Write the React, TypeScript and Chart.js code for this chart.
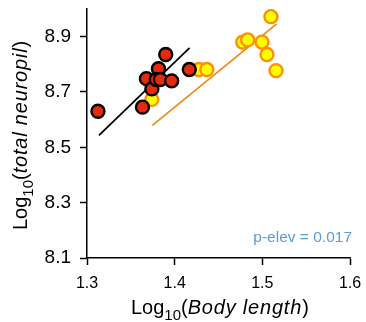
import React, { useEffect, useRef } from "react";
import { Chart, registerables } from "chart.js";

Chart.register(...registerables);

// Data
const redX = [1.3125, 1.3633, 1.3678, 1.374, 1.3815, 1.379, 1.3837, 1.3898, 1.3966, 1.4167];
const redY = [8.63, 8.645, 8.748, 8.711, 8.784, 8.745, 8.745, 8.835, 8.74, 8.781];
const yellowX = [1.3739, 1.4276, 1.4367, 1.5098, 1.4776, 1.4833, 1.4996, 1.5053, 1.5156];
const yellowY = [8.673, 8.781, 8.781, 8.972, 8.88, 8.888, 8.88, 8.835, 8.777];
const blackLineX = [1.3136, 1.417];
const blackLineY = [8.543, 8.859];
const orangeLineX = [1.3746, 1.5163];
const orangeLineY = [8.579, 8.946];
const xTicks = [1.3, 1.4, 1.5, 1.6];
const yTicks = [8.1, 8.3, 8.5, 8.7, 8.9];
const annotation = "p-elev = 0.017";

const FONT = "'Liberation Sans', Arial, sans-serif";

type Part = { text: string; italic?: boolean; sub?: boolean };

function drawParts(ctx: CanvasRenderingContext2D, parts: Part[], x0: number, y0: number, size: number) {
  const fontFor = (p: Part) =>
    `${p.italic ? "italic " : ""}${p.sub ? Math.round(size * 0.75) : size}px ${FONT}`;
  let x = x0;
  ctx.textBaseline = "alphabetic";
  ctx.textAlign = "left";
  ctx.fillStyle = "#000";
  parts.forEach((p) => {
    ctx.font = fontFor(p);
    (ctx as any).letterSpacing = p.italic ? "0.8px" : "0px";
    ctx.fillText(p.text, x, y0 + (p.sub ? size * 0.3 : 0));
    x += ctx.measureText(p.text).width;
  });
  (ctx as any).letterSpacing = "0px";
}

const titlePlugin = {
  id: "titles",
  afterDraw(chart: any) {
    const ctx = chart.ctx as CanvasRenderingContext2D;
    ctx.save();
    drawParts(
      ctx,
      [{ text: "Log" }, { text: "10", sub: true }, { text: "(" }, { text: "Body length", italic: true }, { text: ")" }],
      131,
      314,
      20
    );
    ctx.translate(27, 230);
    ctx.rotate(-Math.PI / 2);
    drawParts(
      ctx,
      [{ text: "Log" }, { text: "10", sub: true }, { text: "(" }, { text: "total neuropil", italic: true }, { text: ")" }],
      0,
      0,
      20
    );
    ctx.restore();
    ctx.save();
    ctx.font = `15.5px ${FONT}`;
    ctx.fillStyle = "#5b9bd5";
    ctx.textAlign = "right";
    ctx.textBaseline = "alphabetic";
    ctx.fillText(annotation, 352, 242);
    ctx.restore();
  },
};

export default function App() {
  const ref = useRef<HTMLCanvasElement>(null);
  useEffect(() => {
    const canvas = ref.current!;
    const toPts = (xs: number[], ys: number[]) => xs.map((x, i) => ({ x, y: ys[i] }));
    const chart = new Chart(canvas, {
      type: "scatter",
      data: {
        datasets: [
          {
            label: "red",
            data: toPts(redX, redY),
            backgroundColor: "#e82a0c",
            borderColor: "#000",
            borderWidth: 2.4,
            pointRadius: 6.5,
            order: 0,
          },
          {
            label: "yellow",
            data: toPts(yellowX, yellowY),
            backgroundColor: "#ffff00",
            borderColor: "#ff8f00",
            borderWidth: 2.4,
            pointRadius: 6.5,
            order: 1,
          },
          {
            label: "black fit",
            type: "line",
            data: toPts(blackLineX, blackLineY),
            borderColor: "#000",
            borderWidth: 1.8,
            pointRadius: 0,
            showLine: true,
            order: 2,
          } as any,
          {
            label: "orange fit",
            type: "line",
            data: toPts(orangeLineX, orangeLineY),
            borderColor: "#f08a1c",
            borderWidth: 1.8,
            pointRadius: 0,
            showLine: true,
            order: 3,
          } as any,
        ],
      },
      options: {
        animation: false,
        responsive: false,
        layout: { padding: { left: 0, right: 16, top: 8, bottom: 0 } },
        plugins: { legend: { display: false }, tooltip: { enabled: false } },
        scales: {
          x: {
            type: "linear",
            min: 1.3,
            max: 1.6,
            afterBuildTicks: (s: any) => {
              s.ticks = xTicks.map((v) => ({ value: v }));
            },
            afterFit: (s: any) => {
              s.height = 64;
              s.paddingLeft = 0;
              s.paddingRight = 0;
              s.paddingTop = 0;
              s.paddingBottom = 0;
            },
            grid: { display: true, drawOnChartArea: false, tickLength: 7, tickColor: "#000", tickWidth: 1.5 },
            border: { color: "#000", width: 1.5 },
            ticks: {
              color: "#000",
              font: { family: FONT, size: 16 },
              padding: 9,
              maxRotation: 0,
              callback: (v: any) => Number(v).toFixed(1),
            },
          },
          y: {
            type: "linear",
            min: 8.1,
            max: 9.0,
            afterBuildTicks: (s: any) => {
              s.ticks = yTicks.map((v) => ({ value: v }));
            },
            afterFit: (s: any) => {
              s.width = 87;
              s.paddingLeft = 0;
              s.paddingRight = 0;
              s.paddingTop = 0;
              s.paddingBottom = 0;
            },
            grid: { display: true, drawOnChartArea: false, tickLength: 7, tickColor: "#000", tickWidth: 1.5 },
            border: { color: "#000", width: 1.5 },
            ticks: {
              color: "#000",
              font: { family: FONT, size: 19 },
              padding: 9,
              callback: (v: any) => Number(v).toFixed(1),
            },
          },
        },
      },
      plugins: [titlePlugin],
    });
    return () => chart.destroy();
  }, []);
  return (
    <canvas
      ref={ref}
      width={366}
      height={322}
      style={{ position: "absolute", left: 0, top: 0, display: "block", width: 366, height: 322 }}
    />
  );
}
